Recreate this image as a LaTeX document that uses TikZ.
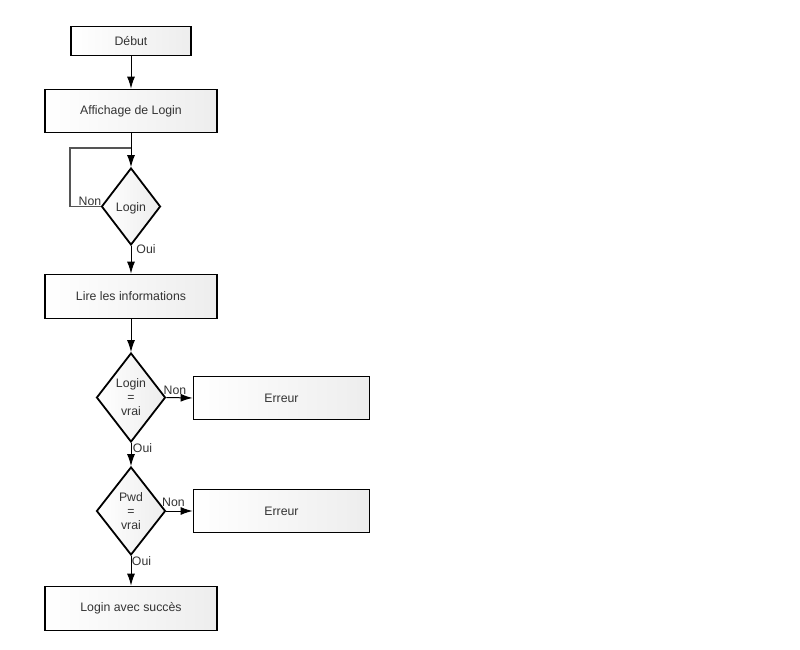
\documentclass[tikz,border=0pt]{standalone}
\usepackage{fontspec}
\setmainfont{Liberation Sans}
\usetikzlibrary{shapes.geometric,arrows.meta}
\definecolor{txt}{HTML}{333333}
\definecolor{loopc}{HTML}{555555}
\tikzset{
  box/.style={draw=black, line width=1.8pt, left color=white, right color=black!7,
    font=\fontsize{12.3}{14}\selectfont, text=txt, inner sep=0pt},
  dec/.style={draw=black, shape=diamond, line width=1.8pt, left color=white, right color=black!7,
    font=\fontsize{12.3}{14}\selectfont, text=txt, inner sep=0pt},
  lbl/.style={font=\fontsize{12.3}{14}\selectfont, text=txt, inner sep=0pt},
  conn/.style={line width=1pt, black, -{Latex[length=12pt,width=8pt]}},
  loopline/.style={line width=1.2pt, loopc}
}
\newcommand{\dtext}[1]{\raisebox{-4.5pt}[0pt][0pt]{\makebox[0pt]{\begin{tabular}{@{}c@{}}#1\end{tabular}}}}
\begin{document}
\begin{tikzpicture}[x=1pt,y=-1pt]
\useasboundingbox (0,0) rectangle (800,650);
\node[box, minimum width=120, minimum height=29] (deb) at (131,41) {Début};
\node[box, minimum width=172, minimum height=43] (aff) at (131,111) {Affichage de Login};
\node[dec, minimum width=59, minimum height=77] (d1) at (131,206.5) {\raisebox{-5pt}[0pt][0pt]{\makebox[0pt]{Login}}};
\node[box, minimum width=172, minimum height=44] (lire) at (131,296.5) {Lire les informations};
\node[dec, minimum width=69, minimum height=89] (d2) at (131,397.5) {\dtext{Login\\=\\vrai}};
\node[box, minimum width=176, minimum height=43] (err1) at (281.5,398) {Erreur};
\node[dec, minimum width=69, minimum height=88] (d3) at (131,511) {\dtext{Pwd\\=\\vrai}};
\node[box, minimum width=176, minimum height=43] (err2) at (281.5,511) {Erreur};
\node[box, minimum width=172, minimum height=44] (succ) at (131,608.5) {Login avec succès};
\coordinate (lp) at (131,148);
% connectors
\draw[conn] (deb.south) -- (aff.north);
\draw[conn] (aff.south) -- (d1.north);
\draw[loopline] (d1.west) -- (70,206.5) |- (lp);
\draw[conn] (d1.south) -- (lire.north);
\draw[conn] (lire.south) -- (d2.north);
\draw[conn] (d2.east) -- (err1.west);
\draw[conn] (d2.south) -- (d3.north);
\draw[conn] (d3.east) -- (err2.west);
\draw[conn] (d3.south) -- (succ.north);
% labels
\node[lbl] (l1) at (90,201) {Non};
\node[lbl] (l2) at (146,249.5) {Oui};
\node[lbl] (l3) at (175,390) {Non};
\node[lbl] (l4) at (142.5,448) {Oui};
\node[lbl] (l5) at (173.5,502) {Non};
\node[lbl] (l6) at (141.5,561) {Oui};
\end{tikzpicture}
\end{document}
